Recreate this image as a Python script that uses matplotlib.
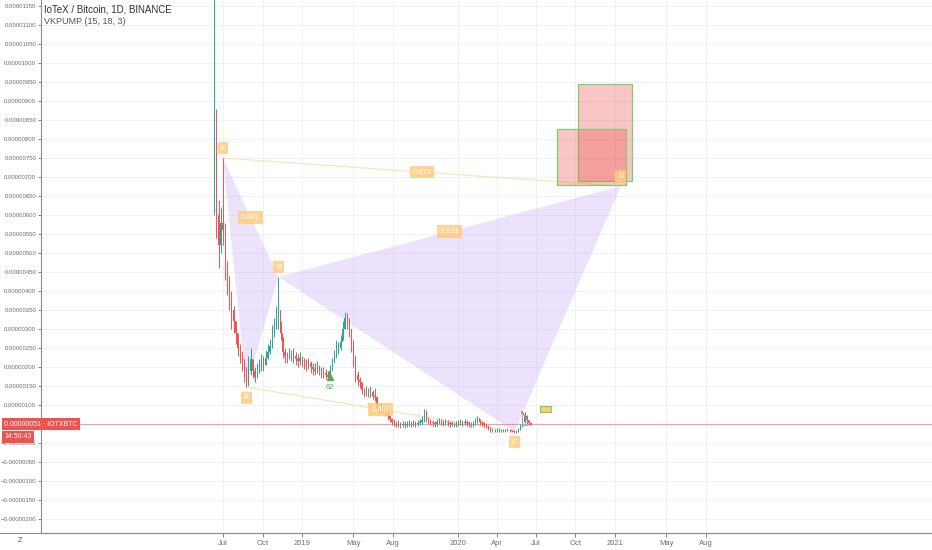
import matplotlib
matplotlib.use("Agg")
import matplotlib.pyplot as plt
import matplotlib.dates as mdates
import numpy as np
import pandas as pd

plt.rcParams["font.family"] = ["Liberation Sans", "DejaVu Sans"]

# Daily IOTX/BTC sampled every 5 days, prices in satoshi (1e-8 BTC)
start_date = "2018-06-10"
first_open = 700
close = [790, 600, 520, 580, 560, 470, 430, 380, 350, 320,
         290, 250, 240, 220, 200, 160, 190, 220, 190, 175,
         190, 200, 210, 205, 225, 240, 255, 290, 300, 330,
         350, 290, 240, 230, 225, 235, 225, 230, 220, 215,
         225, 215, 210, 205, 210, 200, 195, 190, 200, 190,
         180, 185, 180, 175, 190, 210, 230, 245, 250, 265,
         300, 330, 320, 300, 260, 230, 180, 165, 160, 140,
         130, 135, 130, 135, 125, 120, 100, 90, 92, 85,
         80, 70, 62, 55, 52, 48, 50, 47, 50, 48,
         50, 52, 49, 52, 50, 52, 55, 60, 80, 65,
         58, 55, 52, 50, 55, 58, 55, 53, 55, 52,
         50, 52, 48, 50, 52, 55, 52, 55, 52, 50,
         48, 50, 55, 65, 55, 52, 48, 46, 40, 34,
         35, 33, 34, 35, 34, 33, 34, 35, 33, 31,
         30, 31, 35, 45, 55, 70, 60, 52, 51]
high = [1250, 880, 640, 620, 750, 580, 480, 440, 400, 360,
        320, 290, 260, 240, 220, 190, 230, 250, 220, 200,
        210, 220, 235, 230, 245, 260, 275, 310, 330, 360,
        437, 320, 280, 250, 240, 250, 245, 250, 240, 235,
        240, 230, 225, 220, 225, 215, 210, 210, 215, 205,
        200, 200, 195, 190, 205, 225, 245, 270, 265, 285,
        320, 345, 342, 330, 300, 270, 230, 190, 175, 160,
        145, 150, 145, 150, 140, 145, 125, 105, 105, 100,
        95, 85, 75, 65, 62, 58, 60, 56, 58, 57,
        58, 60, 57, 60, 58, 60, 62, 70, 90, 87,
        68, 63, 60, 58, 62, 66, 63, 60, 62, 60,
        58, 58, 56, 57, 60, 62, 60, 63, 60, 58,
        56, 58, 65, 70, 62, 58, 55, 52, 48, 42,
        40, 38, 39, 40, 38, 37, 38, 40, 37, 35,
        34, 35, 40, 50, 65, 82, 75, 60, 56]
low = [600, 540, 460, 500, 520, 430, 390, 350, 300, 290,
       260, 230, 210, 190, 160, 147, 150, 180, 170, 160,
       170, 185, 190, 190, 205, 220, 235, 250, 280, 300,
       300, 270, 225, 210, 210, 220, 215, 210, 205, 200,
       205, 200, 195, 190, 195, 185, 180, 178, 185, 178,
       170, 172, 168, 165, 172, 190, 210, 225, 235, 245,
       270, 300, 300, 280, 240, 200, 160, 150, 145, 130,
       120, 125, 120, 122, 115, 110, 90, 80, 82, 78,
       72, 60, 55, 48, 45, 42, 42, 40, 43, 40,
       42, 44, 41, 45, 43, 45, 47, 50, 55, 55,
       50, 47, 44, 42, 46, 50, 48, 46, 47, 45,
       43, 44, 41, 42, 45, 47, 45, 48, 45, 43,
       42, 43, 47, 52, 48, 45, 42, 40, 33, 30,
       30, 29, 30, 30, 30, 29, 30, 31, 30, 28,
       27, 27, 30, 33, 43, 52, 50, 47, 48]

# XABCD harmonic pattern
pattern_names = ["X", "A", "B", "C", "D"]
pattern_dates = ["2018-06-30", "2018-08-24", "2018-11-07", "2020-05-12", "2021-01-15"]
pattern_prices = [750, 147, 437, 30, 676]
ratio_labels = {"XB": "0.481", "AC": "1.407", "BD": "1.591", "XD": "0.872"}

# target zones
zone_dates = [("2020-10-07", "2021-02-10"), ("2020-08-19", "2021-01-27")]
zone_prices = [(689, 945), (679, 826)]

last_price = 51
signal_date = "2019-03-07"
signal_price = 174
signal_text = "62"

sat = 1e-8
bg_grid = "#eef1f7"
up_col = "#26a69a"
dn_col = "#ef5350"

dates = pd.date_range(start_date, periods=len(close), freq="5D")
x = mdates.date2num(dates)
c = np.array(close) * sat
o = np.concatenate([[first_open * sat], c[:-1]])
h = np.array(high) * sat
l = np.array(low) * sat

fig = plt.figure(figsize=(9.32, 5.5), dpi=100)
ax = fig.add_axes([41 / 932, 17 / 550, 891 / 932, 533 / 550])

ref = mdates.date2num(pd.Timestamp("2019-01-01"))
ax.set_xlim(ref - 609.8, ref + 1472)
ax.set_ylim(-2.368e-6, 1.1658e-5)

# grid
yt = np.arange(-2.0e-6, 1.16e-5, 0.5e-6)
ax.set_yticks(yt)
ax.set_yticklabels([("%.8f" % v).replace("-", "\u2212") if abs(v) > 1e-12 else "\u22120.00000000" for v in yt])
xt_dates = ["2018-07-01", "2018-10-01", "2019-01-01", "2019-05-01", "2019-08-01", "2020-01-01",
            "2020-04-01", "2020-07-01", "2020-10-01", "2021-01-01", "2021-05-01", "2021-08-01"]
xt_labels = ["Jul", "Oct", "2019", "May", "Aug", "2020", "Apr", "Jul", "Oct", "2021", "May", "Aug"]
ax.set_xticks(mdates.date2num(pd.to_datetime(xt_dates)))
ax.set_xticklabels(xt_labels)
ax.grid(True, color=bg_grid, linewidth=0.8)
ax.set_axisbelow(True)
ax.tick_params(axis="both", colors="#6a6d78", width=0.6)
ax.tick_params(axis="y", labelsize=4.3, length=2, pad=1.5)
ax.tick_params(axis="x", labelsize=5.5, length=3, pad=2)
for s in ["top", "right"]:
    ax.spines[s].set_visible(False)
ax.spines["left"].set_color("#8a8d96")
ax.spines["bottom"].set_color("#8a8d96")
ax.spines["left"].set_linewidth(0.8)
ax.spines["bottom"].set_linewidth(0.8)

# pattern triangles
px = mdates.date2num(pd.to_datetime(pattern_dates))
pp = np.array(pattern_prices) * sat
fill_col = "#c9a7f5"
ax.fill([px[0], px[1], px[2]], [pp[0], pp[1], pp[2]], color=fill_col, alpha=0.32, lw=0, zorder=1)
ax.fill([px[2], px[3], px[4]], [pp[2], pp[3], pp[4]], color=fill_col, alpha=0.32, lw=0, zorder=1)
ax.plot([px[0], px[4]], [pp[0], pp[4]], color="#ffe0b2", lw=0.8, zorder=1)
ax.plot([px[1], px[3]], [pp[1], pp[3]], color="#ffe0b2", lw=0.8, zorder=1)

# target zones
for (d0, d1), (p0, p1) in zip(zone_dates, zone_prices):
    x0, x1 = mdates.date2num(pd.to_datetime([d0, d1]))
    ax.add_patch(plt.Rectangle((x0, p0 * sat), x1 - x0, (p1 - p0) * sat,
                               facecolor=dn_col, alpha=0.33, edgecolor="none", zorder=2))
    ax.add_patch(plt.Rectangle((x0, p0 * sat), x1 - x0, (p1 - p0) * sat,
                               facecolor="none", edgecolor="#7ccf6b", lw=0.9, zorder=2))

# last price line
ax.axhline(last_price * sat, color=dn_col, alpha=0.5, lw=0.8, zorder=2)

# candles
col = np.where(c >= o, up_col, dn_col)
ax.vlines(x, l, h, colors=col, lw=0.7, zorder=3)
ax.bar(x, np.maximum(np.abs(c - o), 0.05e-7), bottom=np.minimum(o, c), width=2.0,
       color=col, edgecolor=col, lw=0, zorder=3)

# small triangle near the end
tri_d = mdates.date2num(pd.to_datetime(["2020-05-29", "2020-06-19", "2020-05-31", "2020-05-29"]))
ax.plot(tri_d, np.array([82, 48, 45, 82]) * sat, color="#b0a0a8", lw=0.7, zorder=3)
ax.plot(tri_d[:2], np.array([82, 48]) * sat, color=dn_col, lw=0.7, zorder=3)
sx0, sx1 = mdates.date2num(pd.to_datetime(["2020-07-10", "2020-08-05"]))
ax.add_patch(plt.Rectangle((sx0, 82 * sat), sx1 - sx0, 16 * sat, facecolor="#ffcc80",
                           edgecolor="#7ccf6b", lw=0.9, zorder=3))

# signal marker
sd = mdates.date2num(pd.Timestamp(signal_date))
ax.plot([sd], [signal_price * sat], marker="^", color="#4caf50", ms=4, zorder=4)
ax.text(sd, (signal_price - 28) * sat, signal_text, color="#4caf50", fontsize=5.5,
        ha="center", va="center", zorder=4)

# point labels
box = dict(boxstyle="square,pad=0.35", facecolor="#ffcc80", edgecolor="none", alpha=0.85)
offs = [26, -28, 26, -28, 26]
for name, xx, yy, off in zip(pattern_names, px, pp, offs):
    ax.text(xx, yy + off * sat, name, color="white", fontsize=5.5, ha="center", va="center",
            bbox=box, zorder=5)


def mid_label(i, j, txt):
    ax.text((px[i] + px[j]) / 2, (pp[i] + pp[j]) / 2, txt, color="white", fontsize=5.5,
            ha="center", va="center", bbox=box, zorder=5)


mid_label(0, 2, ratio_labels["XB"])
mid_label(1, 3, ratio_labels["AC"])
mid_label(2, 4, ratio_labels["BD"])
mid_label(0, 4, ratio_labels["XD"])

# header text
fig.text(44 / 932, 1 - 10 / 550, "IoTeX / Bitcoin, 1D, BINANCE", fontsize=7, color="#333333",
         va="center", ha="left")
fig.text(44 / 932, 1 - 22 / 550, "VKPUMP (15, 18, 3)", fontsize=6.5, color="#555555",
         va="center", ha="left")

# last price badges
fig.text(4 / 932, 1 - 424 / 550, "0.00000051 \u00b7 IOTXBTC", fontsize=5, color="white",
         va="center", ha="left", zorder=10,
         bbox=dict(boxstyle="square,pad=0.35", facecolor=dn_col, edgecolor="none"))
fig.text(4 / 932, 1 - 437 / 550, "14:50:43", fontsize=5, color="white",
         va="center", ha="left", zorder=10,
         bbox=dict(boxstyle="square,pad=0.35", facecolor=dn_col, edgecolor="none"))

# bottom border line and corner glyph
fig.add_artist(plt.Line2D([0, 1], [17 / 550, 17 / 550], color="#8a8d96", lw=0.8))
fig.text(20 / 932, 1 - 541 / 550, "Z", fontsize=5.5, color="#555555", ha="center", va="center")

fig.savefig("out.png", dpi=100)
